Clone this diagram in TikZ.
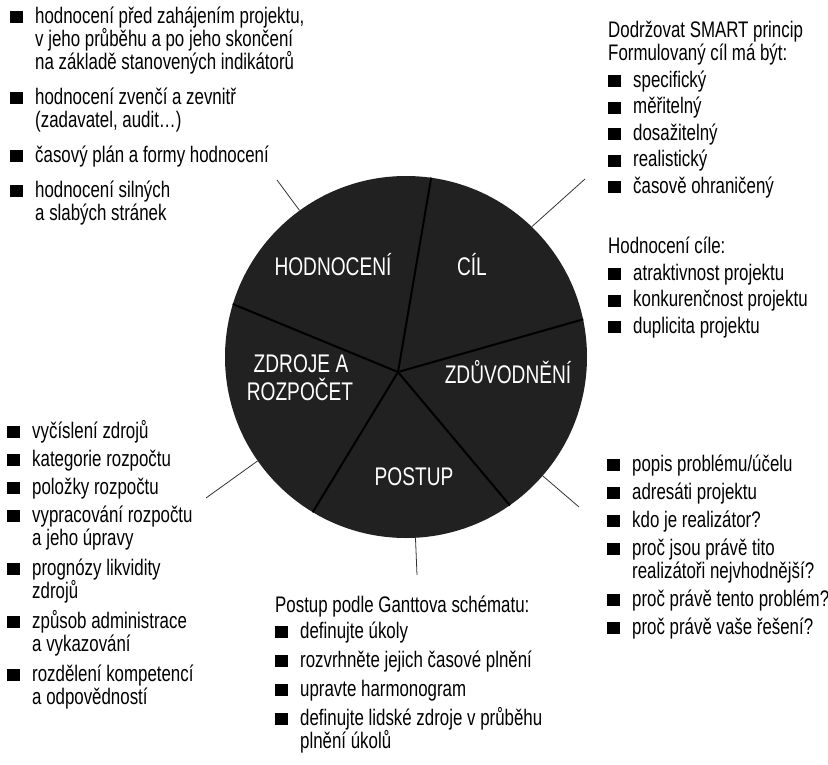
\documentclass[tikz,border=0pt]{standalone}
\usepackage{fontspec}
\setmainfont{Liberation Sans}[FakeStretch=0.75]
\tikzset{
  seznam/.style={
    anchor=north west,
    inner sep=0pt,
    align=left,
    font=\fontsize{22.5}{23}\selectfont
  },
  stitek/.style={
    anchor=base,
    inner sep=0pt,
    text=white,
    font=\fontsize{25.5}{28}\selectfont
  },
  kruh/.style={
    circle,
    fill=black!87,
    minimum size=362pt,
    inner sep=0pt
  },
  predel/.style={
    line width=2pt,
    black
  },
  spojka/.style={
    line width=0.8pt,
    black!80
  }
}
\newcommand{\bod}{\makebox[25pt][l]{\rule{12.5pt}{12pt}}}
\newcommand{\dal}{\hspace*{25pt}}
\newcommand{\prvni}{\rule{0pt}{18pt}}

\begin{document}
\begin{tikzpicture}[x=1pt,y=-1pt]
\useasboundingbox (0,0) rectangle (828,764);
\node[kruh] (wheel) at (406,357) {};
\coordinate (hub) at (398,372);
\draw[predel] (hub) -- (wheel.82);
\draw[predel] (hub) -- (wheel.12);
\draw[predel] (hub) -- (wheel.305);
\draw[predel] (hub) -- (wheel.239);
\draw[predel] (hub) -- (wheel.163);
\node[stitek] (hodn) at (333,275) {HODNOCENÍ};
\node[stitek] (cil) at (472,275) {CÍL};
\node[stitek] (zdroje) at (301,372) {ZDROJE A};
\node[stitek] (rozpocet) at (300,400) {ROZPOČET};
\node[stitek] (zduv) at (508,383) {ZDŮVODNĚNÍ};
\node[stitek] (postup) at (414,485) {POSTUP};
\node[seznam] (lt) at (10,5) {\prvni\bod hodnocení před zahájením projektu,\\
\dal v jeho průběhu a po jeho skončení\\
\dal na základě stanovených indikátorů\\[12pt]
\bod hodnocení zvenčí a zevnitř\\
\dal (zadavatel, audit…)\\[12pt]
\bod časový plán a formy hodnocení\\[12pt]
\bod hodnocení silných\\
\dal a slabých stránek};
\node[seznam] (rt) at (608,19) {\prvni Dodržovat SMART princip\\
Formulovaný cíl má být:\\[4pt]
\bod specifický\\[3.5pt]
\bod měřitelný\\[3.5pt]
\bod dosažitelný\\[3.5pt]
\bod realistický\\[3.5pt]
\bod časově ohraničený\\[37pt]
Hodnocení cíle:\\[4pt]
\bod atraktivnost projektu\\[3.5pt]
\bod konkurenčnost projektu\\[3.5pt]
\bod duplicita projektu};
\node[seznam] (lb) at (7,420) {\prvni\bod vyčíslení zdrojů\\[5pt]
\bod kategorie rozpočtu\\[5pt]
\bod položky rozpočtu\\[5pt]
\bod vypracování rozpočtu\\
\dal a jeho úpravy\\[7pt]
\bod prognózy likvidity\\
\dal zdrojů\\[7pt]
\bod způsob administrace\\
\dal a vykazování\\[7pt]
\bod rozdělení kompetencí\\
\dal a odpovědností};
\node[seznam] (bt) at (275,594) {\prvni Postup podle Ganttova schématu:\\[3pt]
\bod definujte úkoly\\[6pt]
\bod rozvrhněte jejich časové plnění\\[6pt]
\bod upravte harmonogram\\[6pt]
\bod definujte lidské zdroje v průběhu\\
\dal plnění úkolů};
\node[seznam] (rb) at (607,453) {\prvni\bod popis problému/účelu\\[5pt]
\bod adresáti projektu\\[5pt]
\bod kdo je realizátor?\\[5pt]
\bod proč jsou právě tito\\
\dal realizátoři nejvhodnější?\\[5pt]
\bod proč právě tento problém?\\[5pt]
\bod proč právě vaše řešení?};
\coordinate (e1) at (277,180);
\coordinate (e2) at (585,179);
\coordinate (e3) at (206,498);
\coordinate (e4) at (579,507);
\coordinate (e5) at (417,575);
\draw[spojka] (wheel.126) -- (e1);
\draw[spojka] (wheel.46) -- (e2);
\draw[spojka] (wheel.215) -- (e3);
\draw[spojka] (wheel.319) -- (e4);
\draw[spojka] (wheel.273.5) -- (e5);
\end{tikzpicture}
\end{document}
